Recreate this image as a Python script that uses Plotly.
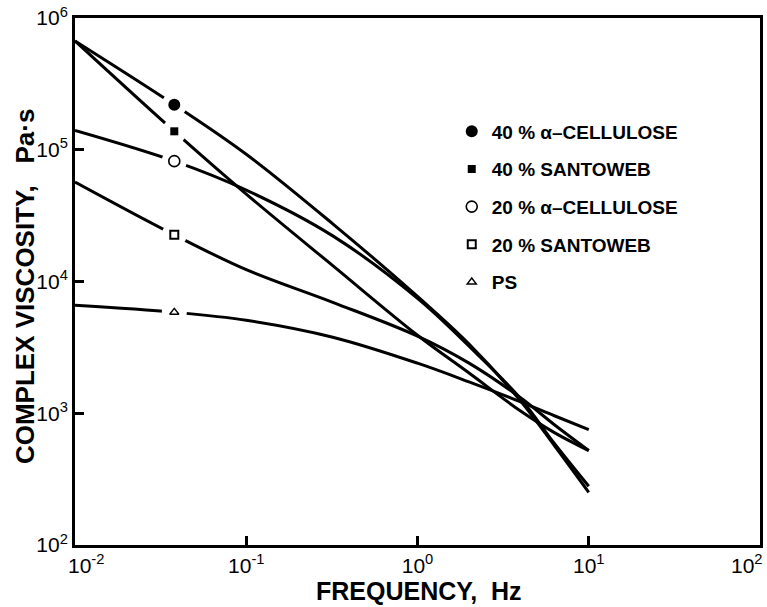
import plotly.graph_objects as go

# ---------------- data ----------------
freq_hz = [0.01, 0.038, 0.1, 0.32, 1.0, 2.0, 4.0, 6.3, 10.0]

visc_40_cellulose = [670000, 220000, 92500, 27400, 7700, 3350, 1240, 569, 251]
visc_40_santoweb = [670000, 138000, 46100, 13200, 3910, 2020, 1040, 713, 521]
visc_20_cellulose = [140000, 81900, 49400, 22200, 7450, 3230, 1290, 589, 279]
visc_20_santoweb = [56900, 22600, 12300, 6950, 3850, 2400, 1310, 818, 521]
visc_ps = [6590, 5840, 5080, 3780, 2400, 1730, 1220, 957, 750]

series_names = ["40 % α–CELLULOSE", "40 % SANTOWEB", "20 % α–CELLULOSE",
                "20 % SANTOWEB", "PS"]
marker_index = 1  # the symbol sits on the point at 0.038 Hz

x_tick_vals = [0.01, 0.1, 1, 10, 100]
x_tick_text = ["10<sup>-2</sup>", "10<sup>-1</sup>", "10<sup>0</sup>",
               "10<sup>1</sup>", "10<sup>2</sup>"]
y_tick_vals = [100, 1000, 10000, 100000, 1000000]
y_tick_text = ["10<sup>2</sup>", "10<sup>3</sup>", "10<sup>4</sup>",
               "10<sup>5</sup>", "10<sup>6</sup>"]

# ---------------- styles ----------------
all_series = [visc_40_cellulose, visc_40_santoweb, visc_20_cellulose,
              visc_20_santoweb, visc_ps]
marker_styles = [
    dict(symbol="circle", size=12, color="black", line=dict(width=0, color="black")),
    dict(symbol="square", size=8, color="black", line=dict(width=0, color="black")),
    dict(symbol="circle-open", size=11, color="black", line=dict(width=1.6, color="black")),
    dict(symbol="square-open", size=8, color="black", line=dict(width=2, color="black")),
    dict(symbol="triangle-up-open", size=8, color="black", line=dict(width=1.4, color="black")),
]

FONT = "Liberation Sans"
fig = go.Figure()

# curves
for vals in all_series:
    fig.add_trace(go.Scatter(
        x=freq_hz, y=vals, mode="lines",
        line=dict(color="black", width=3, shape="spline", smoothing=1.0),
        showlegend=False, hoverinfo="skip"))

# white gaps around the symbols
for vals in all_series:
    fig.add_trace(go.Scatter(
        x=[freq_hz[marker_index]], y=[vals[marker_index]], mode="markers",
        marker=dict(symbol="circle", size=25, color="white", opacity=1,
                    line=dict(width=0, color="white")),
        showlegend=False, hoverinfo="skip"))

# symbols (also used for the legend)
for name, vals, ms in zip(series_names, all_series, marker_styles):
    fig.add_trace(go.Scatter(
        x=[freq_hz[marker_index]], y=[vals[marker_index]], mode="markers",
        marker=ms, name=name, legendgroup=name, showlegend=True))

axis_common = dict(
    type="log", showgrid=False, zeroline=False,
    showline=True, linecolor="black", linewidth=3, mirror=True,
    ticks="inside", ticklen=9, tickwidth=3, tickcolor="black",
    tickfont=dict(family=FONT, size=21, color="black"),
)

fig.update_xaxes(range=[-2, 2], tickvals=x_tick_vals,
                 ticktext=[""] + x_tick_text[1:-1] + [""],
                 ticklabelstandoff=0, **axis_common)
fig.update_yaxes(range=[2, 6], tickvals=y_tick_vals, ticktext=y_tick_text,
                 ticklabelstandoff=0, **axis_common)

# first and last x tick labels are offset as in the reference
fig.add_annotation(text=x_tick_text[0], xref="x", yref="paper",
                   x=-2, y=0, xanchor="left", yanchor="top", xshift=-9, yshift=-4,
                   showarrow=False, font=dict(family=FONT, size=21, color="black"))
fig.add_annotation(text=x_tick_text[-1], xref="x", yref="paper",
                   x=2, y=0, xanchor="right", yanchor="top", xshift=5, yshift=-4,
                   showarrow=False, font=dict(family=FONT, size=21, color="black"))

fig.add_annotation(text="<b>FREQUENCY,\u00a0\u00a0Hz</b>", xref="paper", yref="paper",
                   x=0.502, y=-0.087, xanchor="center", yanchor="middle", showarrow=False,
                   font=dict(family=FONT, size=25, color="black"))
fig.add_annotation(text="<b>COMPLEX VISCOSITY,\u00a0\u00a0\u00a0Pa·s</b>", xref="paper", yref="paper",
                   x=-0.074, y=0.49, xanchor="center", yanchor="middle", showarrow=False,
                   textangle=-90, font=dict(family=FONT, size=26, color="black"))

fig.update_layout(
    width=767, height=607,
    margin=dict(l=75, r=4, t=15, b=62),
    paper_bgcolor="white", plot_bgcolor="white",
    font=dict(family=FONT, color="black"),
    legend=dict(x=0.550, y=0.821, xanchor="left", yanchor="top",
                bgcolor="rgba(0,0,0,0)", borderwidth=0,
                font=dict(family=FONT, size=19, color="black", weight="bold"),
                tracegroupgap=10, itemsizing="trace"),
)

fig.write_html("out.html")
